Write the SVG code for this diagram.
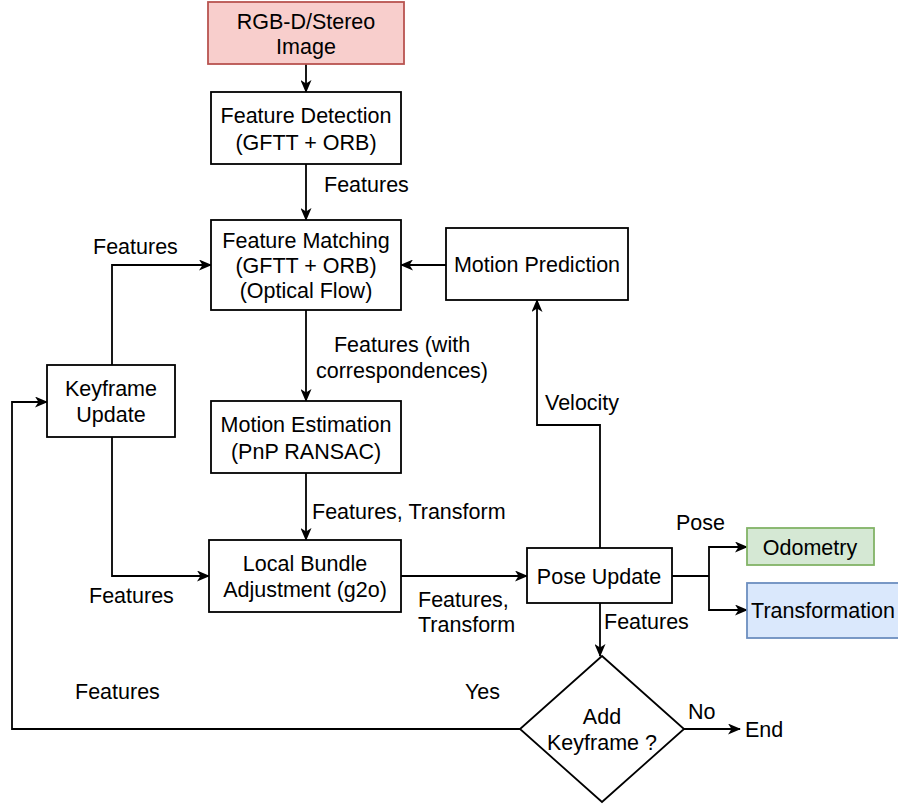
<svg xmlns="http://www.w3.org/2000/svg" width="898" height="805" viewBox="0 0 898 805">
<defs>
<marker id="arr" viewBox="0 0 13 11" refX="12" refY="5.5" markerWidth="13" markerHeight="11" markerUnits="userSpaceOnUse" orient="auto">
<path d="M0,0 L13,5.5 L0,11 L3.5,5.5 z" fill="#000"/>
</marker>
<style>
text{font-family:"Liberation Sans",Arial,sans-serif;font-size:21.5px;fill:#000}
.c{text-anchor:middle}
.box{fill:#fff;stroke:#000;stroke-width:1.8}
.ln{fill:none;stroke:#000;stroke-width:1.8;marker-end:url(#arr)}
.pl{fill:none;stroke:#000;stroke-width:1.8}
</style>
</defs>
<rect width="898" height="805" fill="#fff"/>
<g id="connectors">
<path class="ln" d="M306,64 V92"/>
<path class="ln" d="M306,164 V220"/>
<path class="ln" d="M446,265 H401"/>
<path class="ln" d="M306,310 V401"/>
<path class="ln" d="M306,473 V540"/>
<path class="ln" d="M401,576 H527"/>
<path class="ln" d="M600,548 V425 H537 V300"/>
<path class="pl" d="M672,576 H709"/>
<path class="ln" d="M709,576 V547 H747"/>
<path class="ln" d="M709,576 V610 H747"/>
<path class="ln" d="M600,603 V656"/>
<path class="ln" d="M684,729 H740"/>
<path class="ln" d="M520,729 H12 V402 H47"/>
<path class="ln" d="M112,365 V265 H211"/>
<path class="ln" d="M112,437 V576 H209"/>
<text x="324" y="192">Features</text>
<text class="c" x="402" y="352">Features (with</text>
<text class="c" x="402" y="378">correspondences)</text>
<text x="545" y="410">Velocity</text>
<text x="312" y="519">Features, Transform</text>
<text x="418" y="607">Features,</text>
<text x="418" y="632">Transform</text>
<text x="676" y="530">Pose</text>
<text x="604" y="629">Features</text>
<text x="93" y="254">Features</text>
<text x="89" y="603">Features</text>
<text x="75" y="699">Features</text>
<text x="465" y="699">Yes</text>
<text x="688" y="719">No</text>
<text x="745" y="737">End</text>
</g>
<g id="rgb">
<rect x="208" y="2" width="196" height="62" fill="#f8cecc" stroke="#b85450" stroke-width="1.8"/>
<text class="c" x="306" y="29">RGB-D/Stereo</text>
<text class="c" x="306" y="54">Image</text>
</g>
<g id="feature-detection">
<rect class="box" x="211" y="92" width="190" height="72"/>
<text class="c" x="306" y="123">Feature Detection</text>
<text class="c" x="306" y="150">(GFTT + ORB)</text>
</g>
<g id="feature-matching">
<rect class="box" x="211" y="220" width="190" height="90"/>
<text class="c" x="306" y="248">Feature Matching</text>
<text class="c" x="306" y="273">(GFTT + ORB)</text>
<text class="c" x="306" y="298">(Optical Flow)</text>
</g>
<g id="motion-prediction">
<rect class="box" x="446" y="228" width="182" height="72"/>
<text class="c" x="537" y="272">Motion Prediction</text>
</g>
<g id="keyframe-update">
<rect class="box" x="47" y="365" width="128" height="72"/>
<text class="c" x="111" y="396">Keyframe</text>
<text class="c" x="111" y="422">Update</text>
</g>
<g id="motion-estimation">
<rect class="box" x="211" y="401" width="190" height="72"/>
<text class="c" x="306" y="432">Motion Estimation</text>
<text class="c" x="306" y="459">(PnP RANSAC)</text>
</g>
<g id="local-ba">
<rect class="box" x="209" y="540" width="192" height="72"/>
<text class="c" x="305" y="571">Local Bundle</text>
<text class="c" x="305" y="597">Adjustment (g2o)</text>
</g>
<g id="pose-update">
<rect class="box" x="527" y="548" width="145" height="55"/>
<text class="c" x="599" y="584">Pose Update</text>
</g>
<g id="odometry">
<rect x="747" y="528" width="127" height="37" fill="#d5e8d4" stroke="#82b366" stroke-width="1.8"/>
<text class="c" x="810" y="555">Odometry</text>
</g>
<g id="transformation">
<rect x="747" y="583" width="153" height="55" fill="#dae8fc" stroke="#6c8ebf" stroke-width="1.8"/>
<text class="c" x="823" y="618">Transformation</text>
</g>
<g id="add-keyframe">
<polygon points="602,656 684,729 602,802 520,729" class="box"/>
<text class="c" x="602" y="724">Add</text>
<text class="c" x="602" y="750">Keyframe ?</text>
</g>
</svg>
